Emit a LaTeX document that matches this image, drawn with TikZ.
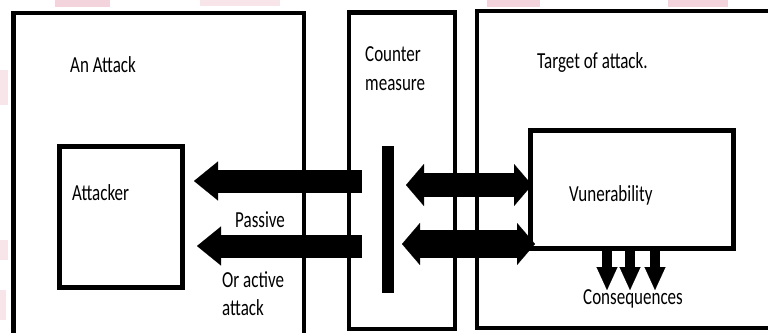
\documentclass[tikz,border=0pt]{standalone}
\usepackage{fontspec}
\setmainfont{Carlito}
\usepackage{graphicx}
\usetikzlibrary{arrows.meta}
\newcommand{\tall}[1]{\scalebox{1}[1.35]{#1}}
\definecolor{smudge}{RGB}{244,212,220}
\tikzset{
  box/.style={draw, line width=4.5pt, inner sep=0pt},
  lbl/.style={anchor=base west, inner sep=0pt, font=\fontsize{17}{20}\selectfont},
  leftarr/.style={line width=23pt, -{Triangle[length=24pt,width=39pt,line width=0.1pt]}},
  twoway/.style={line width=#1, {Triangle[length=18pt,width=42pt,line width=0.1pt]}-{Triangle[length=18pt,width=42pt,line width=0.1pt]}},
  downarr/.style={line width=10pt, -{Triangle[length=23pt,width=21pt,line width=0.1pt]}}
}
\begin{document}
\begin{tikzpicture}[x=1pt, y=-1pt]
  \useasboundingbox[fill=white] (0,0) rectangle (768,332);
  % faint marks round the edges
  \fill[smudge] (55,0) rectangle (110,7);
  \fill[smudge!60] (200,0) rectangle (280,6);
  \fill[smudge] (487,0) rectangle (540,7);
  \fill[smudge] (668,0) rectangle (728,7);
  \fill[smudge!60] (0,70) rectangle (8,105);
  \fill[smudge!60] (0,240) rectangle (8,260);
  \fill[smudge!60] (0,290) rectangle (6,320);

  % the three columns
  \node[box, minimum width=290.5pt, minimum height=332pt] (attack) at (158.75,179) {};
  \node[box, minimum width=106pt, minimum height=316.5pt] (counter) at (402,170.75) {};
  \node[box, minimum width=313pt, minimum height=317pt] (target) at (633.5,169.5) {};
  \node[box, line width=5pt, minimum width=123pt, minimum height=141pt] (attacker) at (120.5,216.5) {};
  \node[box, line width=5pt, minimum width=203pt, minimum height=118pt] (vuln) at (631.5,189) {};

  \node[lbl] (tattack) at (70,72) {\tall{An Attack}};
  \node[lbl] (tattacker) at (72,200) {\tall{Attacker}};
  \node[lbl] (tpassive) at (235,227) {\tall{Passive}};
  \node[lbl] (tor) at (222,287) {\tall{Or active}};
  \node[lbl] (tattack2) at (222,315) {\tall{attack}};
  \node[lbl] (tcounter) at (365,61) {\tall{Counter}};
  \node[lbl] (tmeasure) at (365,90) {\tall{measure}};
  \node[lbl] (ttarget) at (537,68) {\tall{Target of attack.}};
  \node[lbl] (tvuln) at (569,201) {\tall{Vunerability}};
  \node[lbl] (tcons) at (583,304) {\tall{Consequences}};

  % the barrier
  \coordinate (bartop) at (388,146);
  \coordinate (barbot) at (388,293);
  \draw[line width=12pt] (bartop) -- (barbot);

  % attack arrows
  \coordinate (a1s) at (362,181);
  \coordinate (a1e) at (194,181);
  \coordinate (a2s) at (362,246);
  \coordinate (a2e) at (197,246);
  \draw[leftarr] (a1s) -- (a1e);
  \draw[leftarr] (a2s) -- (a2e);

  \coordinate (b1s) at (406,185);
  \coordinate (b1e) at (532,185);
  \coordinate (b2s) at (402,244);
  \coordinate (b2e) at (535,244);
  \draw[twoway=24pt] (b1s) -- (b1e);
  \draw[twoway=28pt] (b2s) -- (b2e);

  % consequences
  \foreach \cx [count=\i] in {607,630,655} {
    \coordinate (c\i) at (\cx,290);
    \draw[downarr] (vuln.south -| c\i) -- (c\i);
  }
\end{tikzpicture}
\end{document}
